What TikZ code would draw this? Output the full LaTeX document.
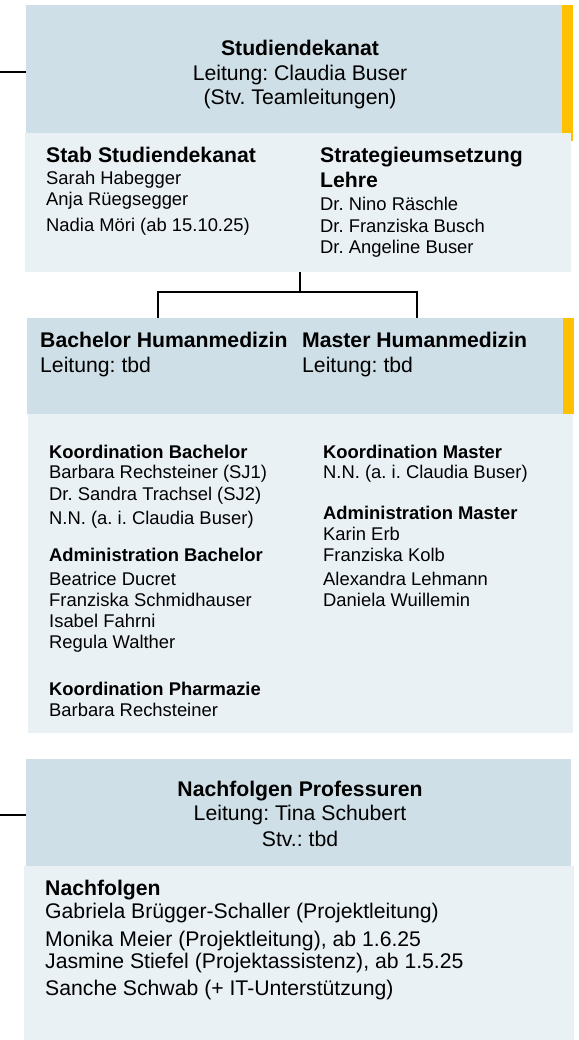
\documentclass[tikz,border=0pt]{standalone}
\usepackage{fontspec}
\setmainfont{Liberation Sans}
\usetikzlibrary{positioning}
\frenchspacing

\definecolor{hdrblue}{RGB}{207,223,231}
\definecolor{paleblue}{RGB}{234,241,245}
\definecolor{unigold}{RGB}{255,192,0}

\begin{document}
\begin{tikzpicture}[x=1pt, y=-1pt,
    box/.style={anchor=north west, inner sep=0pt, outer sep=0pt},
    hdtext/.style={font=\fontsize{21.2}{25}\selectfont, inner sep=0pt},
    nmtext/.style={font=\fontsize{18.4}{22}\selectfont, inner sep=0pt, anchor=base west},
    bigrow/.style={hdtext, anchor=base west},
    tree/.style={line width=1.3pt},
    stub/.style={line width=1.8pt}]
\useasboundingbox (0,0) rectangle (578,1040);

% Studiendekanat
\node[box, fill=unigold, minimum width=11pt, minimum height=136pt] (dekbar) at (562,5) {};
\node[box, fill=hdrblue, minimum width=536pt, minimum height=129pt] (dekanat) at (26,5) {};
\node[box, fill=paleblue, minimum width=546pt, minimum height=139pt] (stab) at (25,133) {};
\foreach \y/\t [count=\i] in {56/\textbf{Studiendekanat}, 81/Leitung: Claudia Buser, 105/(Stv. Teamleitungen)}
    \node[hdtext, anchor=base] (dek\i) at (300,\y) {\t};

% Stab and Strategie columns
\node[bigrow] (stabhead) at (46,163) {\textbf{Stab Studiendekanat}};
\foreach \y/\t [count=\i] in {185/Sarah Habegger, 206/Anja Rüegsegger, 232/Nadia Möri (ab 15.10.25)}
    \node[nmtext] (stab\i) at (46,\y) {\t};
\node[bigrow] (strathead) at (320,163) {\textbf{Strategieumsetzung}};
\node[bigrow] (strathead2) at (320,188) {\textbf{Lehre}};
\foreach \y/\t [count=\i] in {211/Dr. Nino Räschle, 233/Dr. Franziska Busch, 254/Dr. Angeline Buser}
    \node[nmtext] (strat\i) at (320,\y) {\t};

% Bachelor / Master
\node[box, fill=unigold, minimum width=11pt, minimum height=96pt] (hmbar) at (563,318) {};
\node[box, fill=hdrblue, minimum width=536pt, minimum height=96pt] (hm) at (27,318) {};
\node[box, fill=paleblue, minimum width=545pt, minimum height=319pt] (hmteam) at (28,414) {};
\node[bigrow] (bachhead) at (40,347) {\textbf{Bachelor Humanmedizin}};
\node[bigrow] (bachlead) at (40,372) {Leitung: tbd};
\node[bigrow] (masthead) at (302,347) {\textbf{Master Humanmedizin}};
\node[bigrow] (mastlead) at (302,372) {Leitung: tbd};

\foreach \y/\t [count=\i] in {458/\textbf{Koordination Bachelor}, 478/Barbara Rechsteiner (SJ1),
    500/Dr. Sandra Trachsel (SJ2), 524/N.N. (a. i. Claudia Buser), 561/\textbf{Administration Bachelor},
    585/Beatrice Ducret, 606/Franziska Schmidhauser, 627/Isabel Fahrni, 648/Regula Walther,
    695/\textbf{Koordination Pharmazie}, 716/Barbara Rechsteiner}
    \node[nmtext] (bach\i) at (49,\y) {\t};
\foreach \y/\t [count=\i] in {458/\textbf{Koordination Master}, 478/N.N. (a. i. Claudia Buser),
    519/\textbf{Administration Master}, 540/Karin Erb, 561/Franziska Kolb,
    585/Alexandra Lehmann, 606/Daniela Wuillemin}
    \node[nmtext] (mast\i) at (323,\y) {\t};

% Connectors
\coordinate (fork) at (300,292);
\coordinate (bachin) at (158,318);
\coordinate (mastin) at (417,318);
\draw[tree] (fork |- stab.south) -- (fork);
\draw[tree] (bachin) |- (fork) -| (mastin);
\coordinate (dekin) at (0,72);
\draw[stub] (dekin) -- (dekin -| dekanat.west);

% Nachfolgen Professuren
\node[box, fill=hdrblue, minimum width=545pt, minimum height=107pt] (nachf) at (26,759) {};
\node[box, fill=paleblue, minimum width=550pt, minimum height=174pt] (nachfteam) at (24,866) {};
\coordinate (nachfin) at (0,815);
\draw[stub] (nachfin) -- (nachfin -| nachf.west);
\foreach \y/\t [count=\i] in {796/\textbf{Nachfolgen Professuren}, 820/Leitung: Tina Schubert, 846/Stv.: tbd}
    \node[hdtext, anchor=base] (prof\i) at (300,\y) {\t};
\foreach \y/\t [count=\i] in {895/\textbf{Nachfolgen}, 918/Gabriela Brügger-Schaller (Projektleitung),
    946/{Monika Meier (Projektleitung), ab 1.6.25}, 968/{Jasmine Stiefel (Projektassistenz), ab 1.5.25},
    995/Sanche Schwab (+ IT-Unterstützung)}
    \node[bigrow] (nachf\i) at (45,\y) {\t};
\end{tikzpicture}
\end{document}
